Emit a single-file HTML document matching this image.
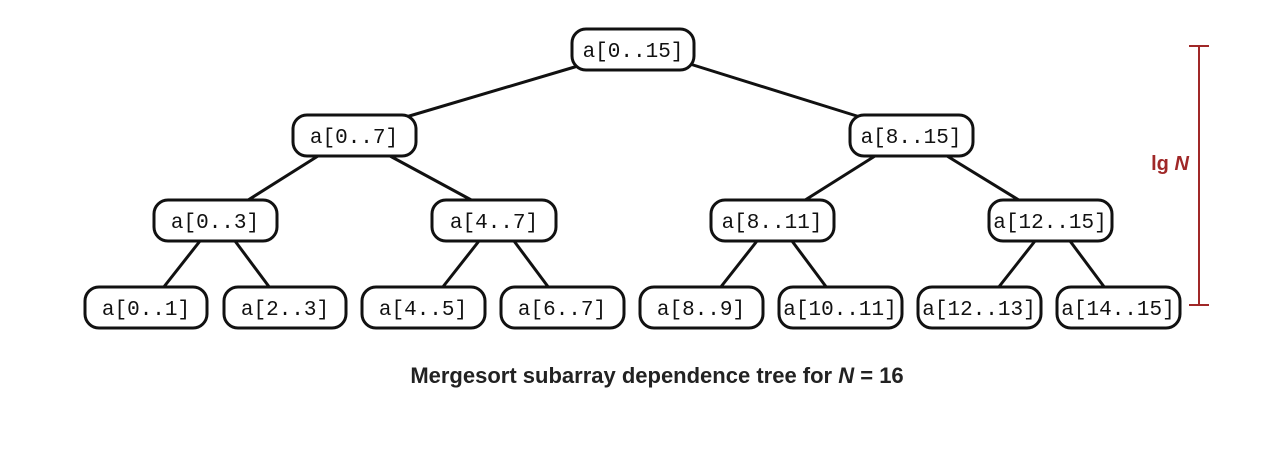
<!DOCTYPE html>
<html><head><style>body{margin:0;background:#fff}svg{display:block}</style></head><body>
<svg width="1280" height="455" viewBox="0 0 1280 455" xmlns="http://www.w3.org/2000/svg">
<g stroke="#111" stroke-width="3" fill="none">
<line x1="578" y1="66" x2="406" y2="117"/><line x1="690" y1="64" x2="860" y2="117"/>
<line x1="318" y1="156" x2="245" y2="202"/><line x1="390" y1="156" x2="475" y2="202"/>
<line x1="875" y1="156" x2="802" y2="202"/><line x1="947" y1="156" x2="1022" y2="202"/>
<line x1="200" y1="241" x2="163" y2="288"/><line x1="235" y1="241" x2="270" y2="288"/>
<line x1="479" y1="241" x2="442" y2="288"/><line x1="514" y1="241" x2="549" y2="288"/>
<line x1="757" y1="241" x2="720" y2="288"/><line x1="792" y1="241" x2="827" y2="288"/>
<line x1="1035" y1="241" x2="998" y2="288"/><line x1="1070" y1="241" x2="1105" y2="288"/>
</g>
<g stroke="#111" stroke-width="3" fill="#fff">
<rect x="572" y="29" width="122" height="41" rx="14"/>
<rect x="293" y="115" width="123" height="41" rx="14"/><rect x="850" y="115" width="123" height="41" rx="14"/>
<rect x="154" y="200" width="123" height="41" rx="14"/><rect x="432" y="200" width="124" height="41" rx="14"/>
<rect x="711" y="200" width="123" height="41" rx="14"/><rect x="989" y="200" width="123" height="41" rx="14"/>
<rect x="85" y="287" width="122" height="41" rx="14"/><rect x="224" y="287" width="122" height="41" rx="14"/>
<rect x="362" y="287" width="123" height="41" rx="14"/><rect x="501" y="287" width="123" height="41" rx="14"/>
<rect x="640" y="287" width="123" height="41" rx="14"/><rect x="779" y="287" width="123" height="41" rx="14"/>
<rect x="918" y="287" width="123" height="41" rx="14"/><rect x="1057" y="287" width="123" height="41" rx="14"/>
</g>
<g font-family="Liberation Mono, monospace" font-size="21" fill="#111" text-anchor="middle">
<text x="633" y="57">a[0..15]</text>
<text x="354" y="143">a[0..7]</text><text x="911" y="143">a[8..15]</text>
<text x="215" y="228">a[0..3]</text><text x="494" y="228">a[4..7]</text>
<text x="772" y="228">a[8..11]</text><text x="1050" y="228">a[12..15]</text>
<text x="146" y="315">a[0..1]</text><text x="285" y="315">a[2..3]</text>
<text x="423" y="315">a[4..5]</text><text x="562" y="315">a[6..7]</text>
<text x="701" y="315">a[8..9]</text><text x="840" y="315">a[10..11]</text>
<text x="979" y="315">a[12..13]</text><text x="1118" y="315">a[14..15]</text>
</g>
<g stroke="#a02828" stroke-width="2">
<line x1="1199" y1="46" x2="1199" y2="305"/><line x1="1189" y1="46" x2="1209" y2="46"/><line x1="1189" y1="305" x2="1209" y2="305"/>
</g>
<text x="1170" y="170" text-anchor="middle" font-family="Liberation Sans, sans-serif" font-size="20" font-weight="bold" fill="#a02828">lg <tspan font-style="italic">N</tspan></text>
<text x="657" y="383" text-anchor="middle" font-family="Liberation Sans, sans-serif" font-size="22" font-weight="bold" fill="#222">Mergesort subarray dependence tree for <tspan font-style="italic">N</tspan> = 16</text>
</svg>
</body></html>
